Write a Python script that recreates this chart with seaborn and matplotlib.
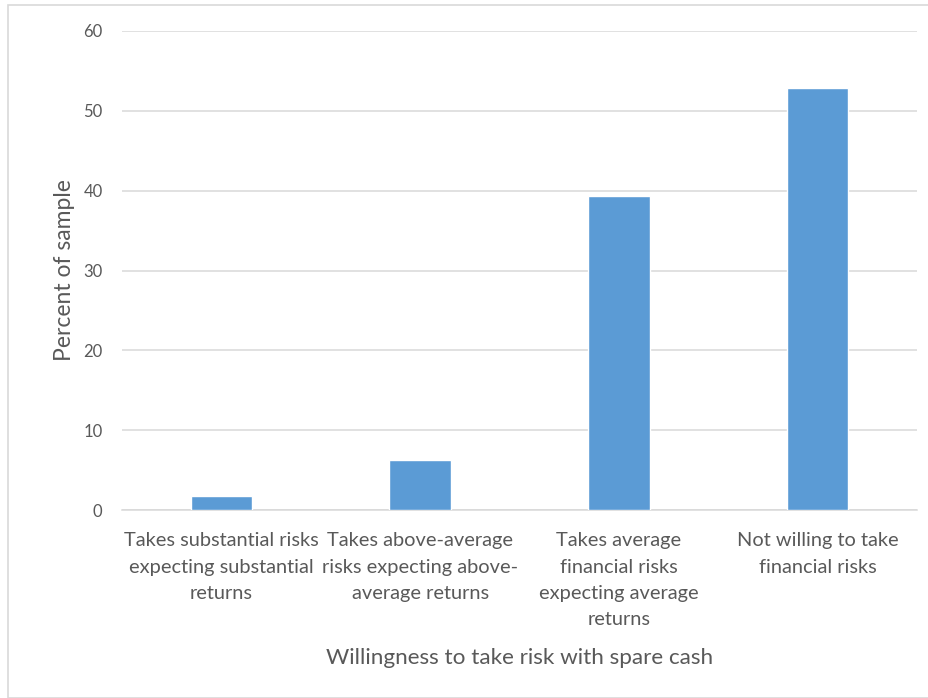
import matplotlib
matplotlib.use("Agg")
import matplotlib.pyplot as plt
import seaborn as sns
import pandas as pd
from matplotlib.patches import Rectangle

categories = [
    "Takes substantial risks\nexpecting substantial\nreturns",
    "Takes above-average\nrisks expecting above-\naverage returns",
    "Takes average\nfinancial risks\nexpecting average\nreturns",
    "Not willing to take\nfinancial risks",
]
percent = [1.7, 6.3, 39.3, 52.8]
y_ticks = [0, 10, 20, 30, 40, 50, 60]

df = pd.DataFrame({"category": categories, "percent": percent})

sns.set_theme(style="white")
plt.rcParams["font.family"] = ["Lato", "DejaVu Sans"]

fig = plt.figure(figsize=(9.29, 6.98), dpi=100)
ax = fig.add_axes([0.1313, 0.2693, 0.8557, 0.6863])

sns.barplot(data=df, x="category", y="percent", color="#5B9BD5",
            saturation=1, width=0.31, ax=ax, zorder=3)

ax.set_ylim(0, 60)
ax.set_xlim(-0.5, 3.5)
ax.set_yticks(y_ticks)
ax.yaxis.grid(True, color="#D9D9D9", linewidth=1.1, zorder=0)
ax.set_axisbelow(True)
for side in ["top", "right", "left"]:
    ax.spines[side].set_visible(False)
ax.spines["bottom"].set_color("#D9D9D9")
ax.spines["bottom"].set_linewidth(1.1)

ax.tick_params(axis="y", length=0, labelsize=12, colors="#595959", pad=14)
ax.tick_params(axis="x", length=0, labelsize=14.4, colors="#595959", pad=16)
for lbl in ax.get_xticklabels():
    lbl.set_linespacing(1.67)

ax.set_xlabel("Willingness to take risk with spare cash", fontsize=16.2,
              color="#595959", labelpad=14)
ax.set_ylabel("Percent of sample", fontsize=16.5, color="#595959", labelpad=6)

# light frame around the chart area
fig.patches.append(Rectangle((8 / 929, 0), 1 - 8 / 929, 1 - 5 / 698,
                             transform=fig.transFigure, fill=False,
                             edgecolor="#D9D9D9", linewidth=1.2))

fig.savefig("out.png", dpi=100, facecolor="white")
